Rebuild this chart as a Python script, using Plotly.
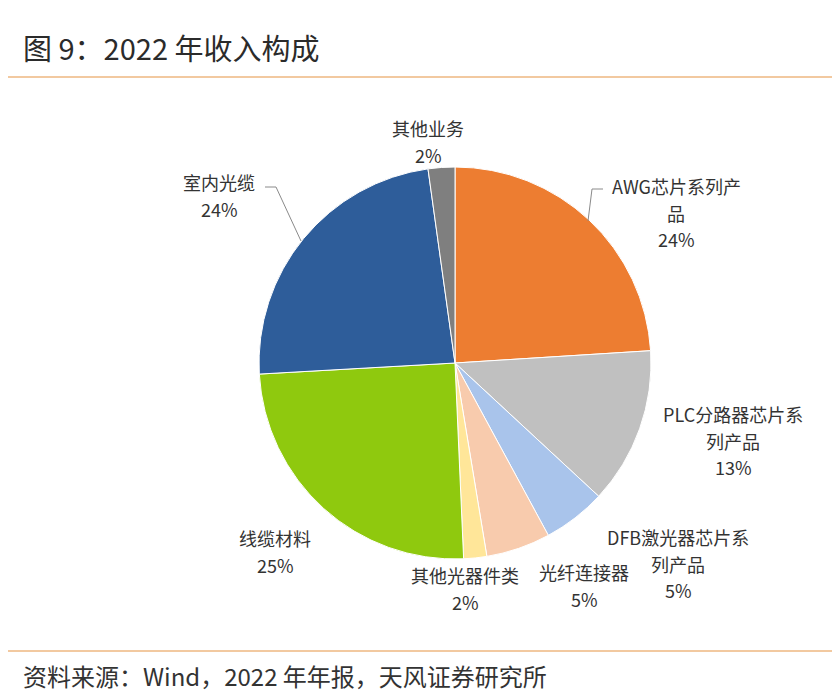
import plotly.graph_objects as go

# ---- data ----
names = ["AWG芯片系列产品", "PLC分路器芯片系列产品", "DFB激光器芯片系列产品", "光纤连接器",
         "其他光器件类", "线缆材料", "室内光缆", "其他业务"]
values = [24.0, 12.9, 5.2, 5.3, 1.9, 24.8, 23.7, 2.2]
colors = ["#ED7D31", "#C0C0C0", "#A9C4EB", "#F8CBAD", "#FFE699", "#8FC90E", "#2E5D9A", "#7F7F7F"]
# label lines (wrapped as in the reference)
label_lines = [["AWG芯片系列产", "品"], ["PLC分路器芯片系", "列产品"], ["DFB激光器芯片系", "列产品"],
               ["光纤连接器"], ["其他光器件类"], ["线缆材料"], ["室内光缆"], ["其他业务"]]

title_text = "图 9：2022 年收入构成"
source_text = "资料来源：Wind，2022 年年报，天风证券研究所"

# page body has an 8px margin: size the figure to fit the 840x700 window
OFF = 8
W, H = 840 - 2 * OFF, 700 - 2 * OFF
FONT = "Noto Sans CJK SC, Microsoft YaHei, sans-serif"

# ---- layout helpers (window pixel -> paper) ----
def px(x):
    return (x - OFF) / W

def py(y):
    return 1 - (y - OFF) / H

cx, cy, r = 455, 363, 196

fig = go.Figure(go.Pie(
    labels=names, values=values, sort=False, direction="clockwise", rotation=0,
    marker=dict(colors=colors, line=dict(color="white", width=1)),
    textinfo="none", hoverinfo="label+percent", showlegend=False,
    domain=dict(x=[px(cx - r), px(cx + r)], y=[py(cy + r), py(cy - r)]),
))

total = sum(values)
pcts = [f"{round(v / total * 100):.0f}%" for v in values]

# label anchor positions (centre of first line, window pixels) and line step
label_pos = [(676, 186), (733, 414), (678, 537), (584, 572), (465, 575), (275, 538), (219, 182), (428, 128)]
step = 26.5

annotations = []
for lines, pct, (lx, ly) in zip(label_lines, pcts, label_pos):
    for i, t in enumerate(lines + [pct]):
        annotations.append(dict(
            x=px(lx), y=py(ly + i * step), xref="paper", yref="paper",
            text=t, showarrow=False, xanchor="center", yanchor="middle",
            font=dict(family=FONT, size=18, color="#333333"),
        ))

annotations.append(dict(x=px(21), y=py(47), xref="paper", yref="paper", text=title_text,
                        showarrow=False, xanchor="left", yanchor="middle",
                        font=dict(family=FONT, size=29, color="#2b2b2b")))
annotations.append(dict(x=px(21), y=py(675), xref="paper", yref="paper", text=source_text,
                        showarrow=False, xanchor="left", yanchor="middle",
                        font=dict(family=FONT, size=24, color="#333333")))

line_col = "#F2C9A0"
shapes = [
    dict(type="line", xref="paper", yref="paper", x0=px(0), x1=px(840), y0=py(77), y1=py(77),
         line=dict(color=line_col, width=2)),
    dict(type="line", xref="paper", yref="paper", x0=px(0), x1=px(840), y0=py(651), y1=py(651),
         line=dict(color=line_col, width=2)),
    # leader lines
    dict(type="path", xref="paper", yref="paper",
         path=f"M {px(265)} {py(187)} L {px(276)} {py(187)} L {px(301)} {py(241)}",
         line=dict(color="#8a8a8a", width=1)),
    dict(type="path", xref="paper", yref="paper",
         path=f"M {px(603)} {py(189)} L {px(592)} {py(189)} L {px(588)} {py(221)}",
         line=dict(color="#8a8a8a", width=1)),
]

fig.update_layout(
    width=W, height=H, margin=dict(l=0, r=0, t=0, b=0),
    paper_bgcolor="white", plot_bgcolor="white",
    annotations=annotations, shapes=shapes,
)

fig.write_html("out.html")
